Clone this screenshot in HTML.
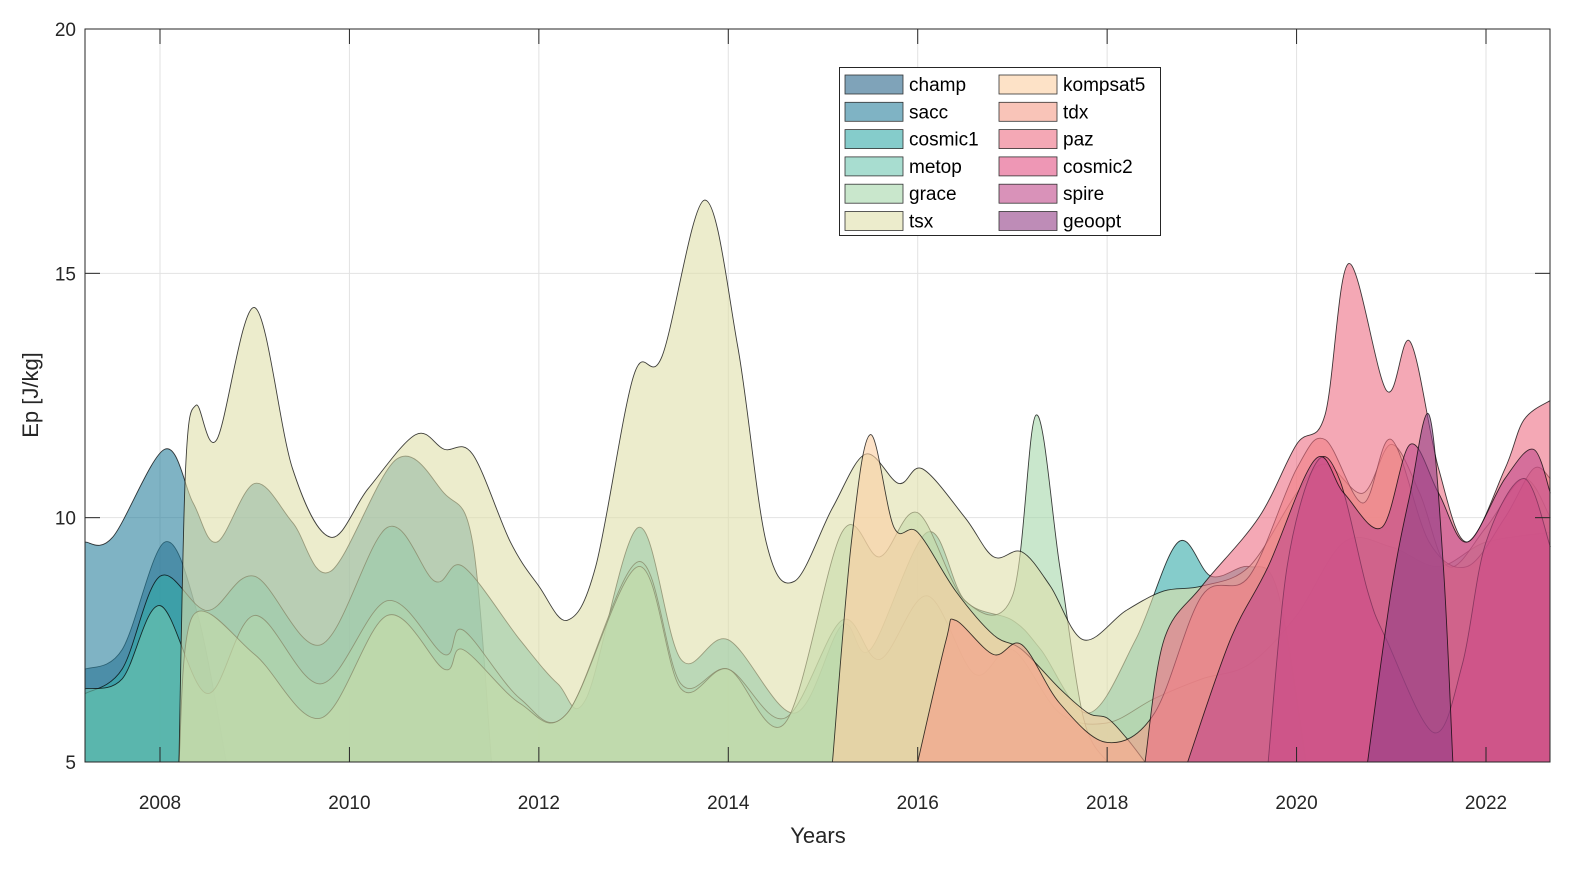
<!DOCTYPE html>
<html><head><meta charset="utf-8"><style>
html,body{margin:0;padding:0;background:#fff;overflow:hidden;width:1592px;height:874px;}
svg{display:block;font-family:"Liberation Sans",Arial,sans-serif;}
</style></head><body>
<svg id="chart" width="1592" height="874" viewBox="0 0 1592 874">
<g id="grid"></g>
<g id="areas"></g>
<g id="axes"></g>
<g id="legend"></g>
</svg>
<script>
const xTicks=[2008,2010,2012,2014,2016,2018,2020,2022];
const yTicks=[5,10,15,20];
const seriesNames=["champ","sacc","cosmic1","metop","grace","tsx","kompsat5","tdx","paz","cosmic2","spire","geoopt"];
const seriesColors=["#2a668a","#2a809d","#34aaa8","#6ec6b1","#a5d7aa","#dfdfaa","#fccfa2","#f59d89","#ed6e84","#e35284","#c0498a","#933f87"];
const champYears=[2007.21,2007.6,2008.05,2008.4,2008.7];
const champValues=[6.9,7.3,9.5,8.0,5];
const saccYears=[2007.21,2007.5,2008.05,2008.35,2008.6,2009.0,2009.4,2009.8,2010.5,2011.0,2011.3,2011.5];
const saccValues=[9.5,9.6,11.4,10.3,9.5,10.7,9.9,8.9,11.2,10.5,9.5,5];
const cosmic1Years=[2007.21,2007.6,2008.0,2008.5,2009.0,2009.7,2010.4,2010.9,2011.2,2011.8,2012.2,2012.5,2013.05,2013.5,2014.0,2014.7,2015.2,2015.5,2016.1,2016.5,2017.0,2017.3,2017.8,2018.3,2018.75,2019.1,2019.5,2019.8,2020.1];
const cosmic1Values=[6.4,6.9,8.8,8.1,8.8,7.4,9.8,8.7,9.0,7.5,6.6,6.3,9.8,7.1,7.5,6.0,7.8,7.3,9.7,8.3,7.9,7.3,6.0,7.5,9.5,8.8,9.0,8.5,5];
const metopYears=[2007.21,2007.6,2008.0,2008.5,2009.0,2009.7,2010.4,2011.0,2011.2,2011.8,2012.3,2013.05,2013.5,2014.0,2014.6,2015.2,2015.6,2016.1,2016.6,2017.0,2017.5,2018.0,2018.5,2019.0,2019.5,2020.0,2020.5,2021.0,2021.5,2022.0,2022.68];
const metopValues=[6.5,6.7,8.2,6.4,8.0,6.6,8.3,7.2,7.7,6.3,6.0,9.1,6.6,6.9,5.9,7.9,7.1,8.4,6.8,7.3,6.0,5.8,6.3,6.7,7.0,8.0,9.5,9.4,9.0,9.5,9.7];
const graceYears=[2008.2,2008.35,2009.0,2009.7,2010.4,2011.0,2011.2,2011.8,2012.3,2013.05,2013.5,2014.0,2014.6,2015.2,2015.6,2016.0,2016.5,2017.0,2017.25,2017.5,2017.75,2018.0];
const graceValues=[5,8.0,7.2,5.9,8.0,6.9,7.3,6.2,6.0,9.0,6.5,6.9,5.8,9.7,9.2,10.1,8.3,8.4,12.1,9.0,5.9,5];
const tsxYears=[2008.2,2008.27,2008.38,2008.6,2009.0,2009.4,2009.8,2010.2,2010.7,2011.0,2011.3,2011.7,2012.0,2012.3,2012.6,2013.0,2013.3,2013.75,2014.1,2014.4,2014.7,2015.1,2015.45,2015.8,2016.05,2016.5,2016.8,2017.1,2017.4,2017.75,2018.2,2018.6,2019.0,2019.5,2020.0,2020.3,2020.7,2021.0,2021.3,2021.6,2022.0,2022.4,2022.68];
const tsxValues=[5,11.0,12.3,11.6,14.3,11.0,9.6,10.6,11.7,11.4,11.3,9.5,8.6,7.9,9.0,12.9,13.3,16.5,13.5,9.5,8.7,10.2,11.3,10.7,11.0,10.0,9.2,9.3,8.6,7.5,8.1,8.5,8.6,9.0,10.5,11.1,10.5,11.5,10.5,9.0,9.8,10.8,10.0];
const kompsat5Years=[2015.1,2015.3,2015.5,2015.75,2016.0,2016.4,2016.8,2017.1,2017.5,2017.8,2018.0,2018.2,2018.4];
const kompsat5Values=[5,9.5,11.7,9.8,9.7,8.5,7.6,7.3,6.5,6.0,5.9,5.5,5];
const tdxYears=[2016.0,2016.3,2016.4,2016.8,2017.1,2017.5,2018.0,2018.5,2019.0,2019.5,2020.0,2020.3,2020.7,2021.0,2021.4,2021.8,2022.2,2022.5,2022.68];
const tdxValues=[5,7.5,7.9,7.2,7.4,6.2,5.4,6.0,8.4,8.8,11.0,11.6,10.3,11.6,9.5,9.0,10.0,11.0,10.8];
const pazYears=[2018.4,2018.6,2019.0,2019.6,2020.0,2020.3,2020.55,2020.95,2021.2,2021.5,2021.8,2022.2,2022.4,2022.68];
const pazValues=[5,7.5,8.6,10.0,11.5,12.1,15.2,12.6,13.6,11.0,9.5,11.0,12.0,12.4];
const cosmic2Years=[2019.7,2019.9,2020.2,2020.45,2020.75,2020.95,2021.45,2021.75,2022.0,2022.4,2022.68];
const cosmic2Values=[5,9.0,11.1,10.8,8.5,7.5,5.6,7.0,9.5,10.8,9.4];
const spireYears=[2018.85,2019.3,2019.7,2020.2,2020.5,2020.9,2021.2,2021.5,2021.8,2022.2,2022.5,2022.68];
const spireValues=[5,7.5,9.0,11.2,10.5,9.8,11.5,10.5,9.5,10.8,11.4,10.5];
const geooptYears=[2020.75,2021.0,2021.2,2021.4,2021.55,2021.65];
const geooptValues=[5,8.5,10.5,12.1,9,5];
const allYears=[champYears,saccYears,cosmic1Years,metopYears,graceYears,tsxYears,kompsat5Years,tdxYears,pazYears,cosmic2Years,spireYears,geooptYears];
const allValues=[champValues,saccValues,cosmic1Values,metopValues,graceValues,tsxValues,kompsat5Values,tdxValues,pazValues,cosmic2Values,spireValues,geooptValues];

const L=85,R=1550,T=29,B=762;
const xs=y=>160+(y-2008)*(1486-160)/14;
const ys=v=>B-(v-5)*(B-T)/15;
const NS="http://www.w3.org/2000/svg";
function mk(tag,attrs,parent){const e=document.createElementNS(NS,tag);for(const k in attrs)e.setAttribute(k,attrs[k]);parent.appendChild(e);return e;}

const grid=document.getElementById('grid');
xTicks.forEach(t=>{const l=mk('line',{x1:xs(t),x2:xs(t),y1:T,y2:B,stroke:'#e2e2e2','stroke-width':1},grid);

});
yTicks.forEach(t=>{const l=mk('line',{x1:L,x2:R,y1:ys(t),y2:ys(t),stroke:'#e2e2e2','stroke-width':1},grid);

});

function pathFor(yr,vals){
  const p=yr.map((y,i)=>[xs(y),ys(vals[i])]);
  let d=`M${p[0][0]},${B}L${p[0][0]},${p[0][1]}`;
  for(let i=0;i<p.length-1;i++){
    const p0=p[i-1]||p[i],p1=p[i],p2=p[i+1],p3=p[i+2]||p2;
    let c1x=p1[0]+(p2[0]-p0[0])/6,c1y=Math.min(B,p1[1]+(p2[1]-p0[1])/6);
    let c2x=p2[0]-(p3[0]-p1[0])/6,c2y=Math.min(B,p2[1]-(p3[1]-p1[1])/6);
    d+=`C${c1x},${c1y} ${c2x},${c2y} ${p2[0]},${p2[1]}`;
  }
  return {fill:d+`L${p[p.length-1][0]},${B}Z`,line:d.replace(/^M[^L]*L/,'M')};
}
const areas=document.getElementById('areas');
seriesNames.forEach((n,i)=>{
  const pp=pathFor(allYears[i],allValues[i]);
  const f=mk('path',{d:pp.fill,fill:seriesColors[i],'fill-opacity':0.6,stroke:'none'},areas);
  
  
  const ln=mk('path',{d:pp.line,fill:'none',stroke:'#000','stroke-opacity':0.75,'stroke-width':0.9},areas);
  
  
});

const axes=document.getElementById('axes');
const box=mk('rect',{x:L,y:T,width:R-L,height:B-T,fill:'none',stroke:'#262626','stroke-width':1},axes);


xTicks.forEach(t=>{
  mk('line',{x1:xs(t),x2:xs(t),y1:T,y2:T+15,stroke:'#262626'},axes);
  mk('line',{x1:xs(t),x2:xs(t),y1:B,y2:B-15,stroke:'#262626'},axes);
  const tx=mk('text',{x:xs(t),y:809,'text-anchor':'middle','font-size':19,fill:'#262626'},axes);
  tx.textContent=t;
  
  
});
yTicks.forEach(t=>{
  mk('line',{x1:L,x2:L+15,y1:ys(t),y2:ys(t),stroke:'#262626'},axes);
  mk('line',{x1:R,x2:R-15,y1:ys(t),y2:ys(t),stroke:'#262626'},axes);
  const tx=mk('text',{x:76,y:ys(t)+7,'text-anchor':'end','font-size':19,fill:'#262626'},axes);
  tx.textContent=t;
  
  
});
const xt=mk('text',{x:818,y:843,'text-anchor':'middle','font-size':22,fill:'#262626'},axes);
xt.textContent='Years';


const yt=mk('text',{x:38,y:395,'text-anchor':'middle','font-size':22,fill:'#262626',transform:'rotate(-90 38 395)'},axes);
yt.textContent='Ep [J/kg]';



const lg=document.getElementById('legend');
const lb=mk('rect',{x:839.5,y:67.5,width:321,height:168,fill:'#fff',stroke:'#262626','stroke-width':1},lg);


seriesNames.forEach((n,i)=>{
  const col=Math.floor(i/6),row=i%6;
  const x0=col?999:845,y0=75+row*27.3;
  const g=mk('g',{},lg);
  
  
  mk('rect',{x:x0,y:y0,width:58,height:19,fill:seriesColors[i],'fill-opacity':0.6,stroke:'#333','stroke-width':0.8},g);
  const t=mk('text',{x:x0+64,y:y0+16,'font-size':19,fill:'#000'},g);
  t.textContent=n;
});
</script>
</body></html>
